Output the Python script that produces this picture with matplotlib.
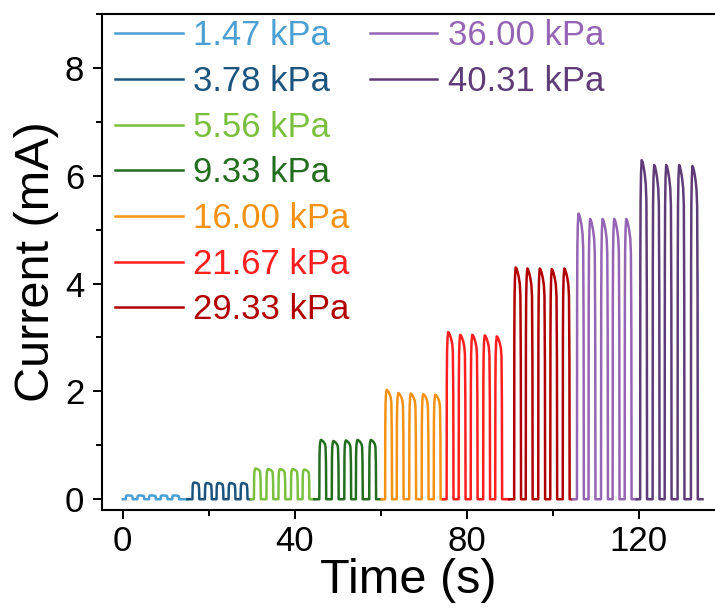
import numpy as np
import matplotlib
matplotlib.use("Agg")
import matplotlib.pyplot as plt
from matplotlib.ticker import MultipleLocator
from matplotlib.lines import Line2D

plt.rcParams['font.family'] = ['Liberation Sans', 'DejaVu Sans']

# ---- data ----
pressures = ["1.47 kPa", "3.78 kPa", "5.56 kPa", "9.33 kPa", "16.00 kPa",
             "21.67 kPa", "29.33 kPa", "36.00 kPa", "40.31 kPa"]

seg_start = [0.0, 15.0, 29.8, 44.5, 60.2, 74.5, 89.8, 104.6, 119.5]
seg_end = [15.0, 29.8, 44.5, 60.2, 74.5, 89.8, 104.6, 119.5, 134.8]

pulse_on = [
    [0.7, 3.4, 6.1, 8.8, 11.5],
    [16.2, 19.1, 21.8, 24.6, 27.4],
    [30.5, 33.4, 36.2, 39.1, 41.8],
    [45.7, 48.6, 51.5, 54.2, 57.3],
    [61.0, 63.7, 66.6, 69.5, 72.3],
    [75.3, 78.1, 80.9, 83.8, 86.6],
    [91.0, 93.7, 96.6, 99.4, 102.3],
    [105.6, 108.3, 111.2, 113.9, 116.7],
    [120.3, 123.2, 126.0, 129.0, 132.1],
]

pulse_peak = [
    [0.07, 0.07, 0.07, 0.07, 0.07],
    [0.31, 0.30, 0.30, 0.30, 0.30],
    [0.57, 0.56, 0.56, 0.56, 0.55],
    [1.10, 1.08, 1.09, 1.10, 1.10],
    [2.03, 1.97, 1.96, 1.95, 1.94],
    [3.10, 3.05, 3.05, 3.04, 3.02],
    [4.30, 4.28, 4.28, 4.27, 4.28],
    [5.30, 5.20, 5.20, 5.20, 5.20],
    [6.29, 6.20, 6.20, 6.20, 6.18],
]

# outline of one pulse (seconds after switch-on, fraction of its peak)
shape_dt = [0.0, 0.04, 0.1, 0.2, 0.35, 0.55, 0.8, 1.05, 1.3, 1.45, 1.55, 1.6]
shape_frac = [0.0, 0.7, 0.88, 0.96, 1.0, 0.995, 0.98, 0.96, 0.93, 0.88, 0.6, 0.0]

colors = ["#4A9FD3", "#1B557E", "#7AC03E", "#236E1E", "#F59214",
          "#FF1E1E", "#B20000", "#9664B4", "#5F3C78"]


def build_trace(i):
    t = [seg_start[i]]
    y = [0.0]
    for t0, pk in zip(pulse_on[i], pulse_peak[i]):
        t += [t0 + d for d in shape_dt]
        y += [pk * f for f in shape_frac]
    t.append(seg_end[i])
    y.append(0.0)
    return np.array(t), np.array(y)


fig = plt.figure(figsize=(7.15, 6.1), dpi=100)
ax = fig.add_axes([101.7 / 715, 1 - 510 / 610, 1 - 101.7 / 715, (510 - 14) / 610])

for i in range(len(pressures)):
    t, y = build_trace(i)
    ax.plot(t, y, color=colors[i], lw=1.8, solid_joinstyle='round')

ax.set_xlim(-4.9, 137.7)
ax.set_ylim(-0.2, 9.0)
ax.xaxis.set_major_locator(MultipleLocator(40))
ax.xaxis.set_minor_locator(MultipleLocator(20))
ax.yaxis.set_major_locator(MultipleLocator(2))
ax.yaxis.set_minor_locator(MultipleLocator(1))
ax.tick_params(which='major', direction='out', length=6.5, width=1.4, labelsize=25, pad=4)
ax.tick_params(axis='y', which='major', pad=6)
ax.tick_params(which='minor', direction='out', length=4, width=1.4)
for s in ax.spines.values():
    s.set_linewidth(1.5)
ax.spines['right'].set_visible(False)

ax.set_xlabel("Time (s)", fontsize=35, labelpad=0)
ax.set_ylabel("Current (mA)", fontsize=35, labelpad=4)

handles = [Line2D([], [], color=c, lw=1.8) for c in colors]
leg_kw = dict(loc='upper left', frameon=False, fontsize=25, handlelength=1.95,
              handletextpad=0.3, labelspacing=0.365, borderpad=0, borderaxespad=0.1)
leg1 = ax.legend(handles[:7], pressures[:7], bbox_to_anchor=(0.016, 0.996), **leg_kw)
ax.add_artist(leg1)
leg2 = ax.legend(handles[7:], pressures[7:], bbox_to_anchor=(0.431, 0.996), **leg_kw)
for leg in (leg1, leg2):
    for txt, h in zip(leg.get_texts(), leg.legend_handles):
        txt.set_color(h.get_color())

fig.savefig("out.png", dpi=100)
